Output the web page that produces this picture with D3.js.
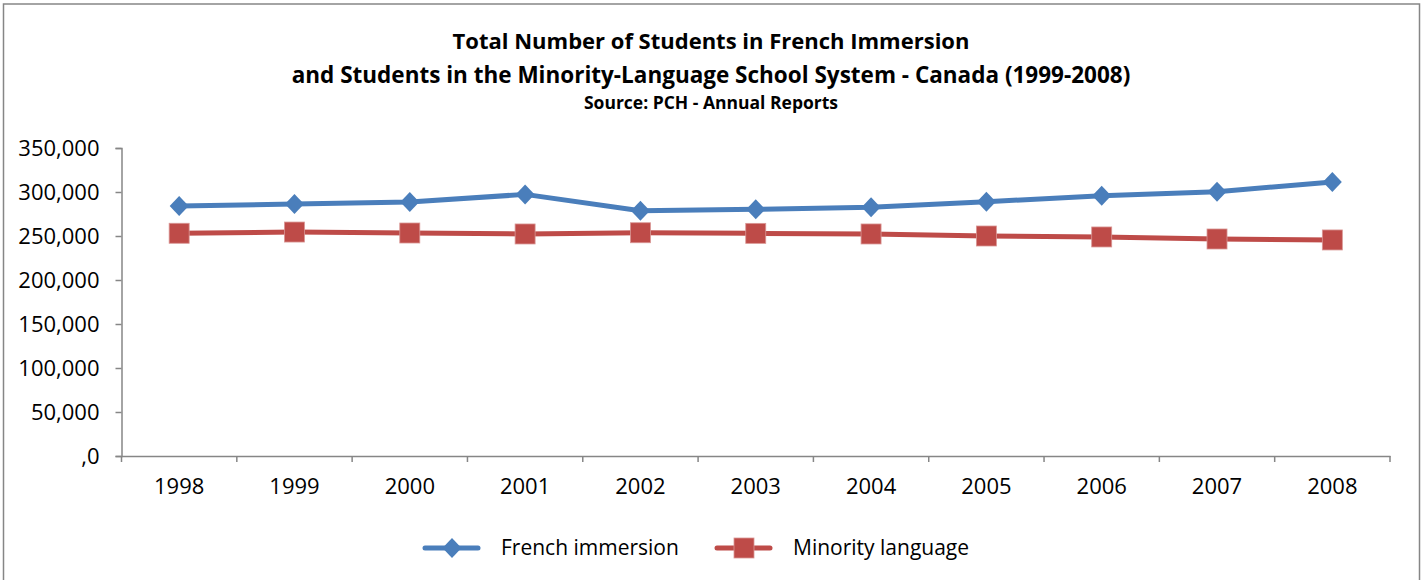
<!DOCTYPE html>
<html lang="en">
<head>
<meta charset="UTF-8">
<script src="https://d3js.org/d3.v7.min.js"></script>
<style>
    body { margin: 0; background: white; }
    text { font-family: "Open Sans", Lato, sans-serif; }
</style>
</head>
<body>
<svg id="chart" width="1426" height="580"></svg>
<script>
const years = ["1998", "1999", "2000", "2001", "2002", "2003", "2004", "2005", "2006", "2007", "2008"];
const frenchImmersion = [284100, 286400, 288600, 297300, 278700, 280300, 282600, 289000, 295800, 300300, 311400];
const minorityLanguage = [253100, 254500, 253400, 252300, 253700, 253000, 252300, 250000, 248900, 246600, 245500];
const yTicks = [0, 50000, 100000, 150000, 200000, 250000, 300000, 350000];

const width = 1426, height = 580;
const margin = { top: 148, right: 36, bottom: 124, left: 121.5 };
const svg = d3.select("#chart");

// outer chart border
svg.append("rect")
    .attr("x", 3.5).attr("y", 4)
    .attr("width", 1416).attr("height", 590)
    .attr("fill", "white").attr("stroke", "#868686").attr("stroke-width", 1.5);

svg.append("text").attr("x", 711).attr("y", 49)
    .attr("text-anchor", "middle").style("font-size", "22px").style("font-weight", "bold")
    .text("Total Number of Students in French Immersion");
svg.append("text").attr("x", 711).attr("y", 83)
    .attr("text-anchor", "middle").style("font-size", "22.5px").style("font-weight", "bold")
    .text("and Students in the Minority-Language School System - Canada (1999-2008)");
svg.append("text").attr("x", 711).attr("y", 109)
    .attr("text-anchor", "middle").style("font-size", "17.5px").style("font-weight", "bold")
    .text("Source: PCH - Annual Reports");

const x = d3.scaleBand().domain(years).range([margin.left, width - margin.right]);
const y = d3.scaleLinear().domain([0, 350000]).range([height - margin.bottom, margin.top]);

const fmt = d => d === 0 ? ",0" : d3.format(",")(d);

const yAxis = svg.append("g")
    .attr("transform", `translate(${margin.left},0)`)
    .call(d3.axisLeft(y).tickValues(yTicks).tickFormat(fmt).tickSize(6).tickPadding(16));
const xAxis = svg.append("g")
    .attr("transform", `translate(0,${height - margin.bottom})`)
    .call(d3.axisBottom(x).tickSize(0).tickPadding(22));

// category boundary ticks like the original
xAxis.selectAll(".boundary")
    .data(years.concat(["end"]))
    .enter().append("line")
    .attr("x1", (d, i) => margin.left + i * x.bandwidth())
    .attr("x2", (d, i) => margin.left + i * x.bandwidth())
    .attr("y1", 0).attr("y2", 6)
    .attr("stroke", "#868686").attr("stroke-width", 1.5);

[yAxis, xAxis].forEach(g => {
    g.select(".domain").attr("stroke", "#868686").attr("stroke-width", 1.5);
    g.selectAll(".tick line").attr("stroke", "#868686").attr("stroke-width", 1.5);
    g.selectAll("text").style("font-size", "22px").attr("fill", "black").style("font-family", "'Open Sans', sans-serif");
});

const series = [
    { name: "French immersion", values: frenchImmersion, color: "#4A7EBB", shape: "diamond" },
    { name: "Minority language", values: minorityLanguage, color: "#BE4B48", shape: "square" }
];

const line = d3.line()
    .x((d, i) => x(years[i]) + x.bandwidth() / 2)
    .y(d => y(d));

function marker(g, shape, color) {
    if (shape === "diamond") {
        g.append("path").attr("d", "M0,-10L9.5,0L0,10L-9.5,0Z").attr("fill", color);
    } else {
        g.append("rect").attr("x", -10).attr("y", -10).attr("width", 20).attr("height", 20)
            .attr("fill", color).attr("stroke", "#D99694").attr("stroke-width", 0.8);
    }
}

series.forEach(s => {
    svg.append("path")
        .datum(s.values)
        .attr("d", line)
        .attr("fill", "none")
        .attr("stroke", s.color)
        .attr("stroke-width", 5)
        .attr("stroke-linejoin", "round");
    s.values.forEach((v, i) => {
        const g = svg.append("g")
            .attr("transform", `translate(${x(years[i]) + x.bandwidth() / 2},${y(v)})`);
        marker(g, s.shape, s.color);
    });
});

// legend
const legendX = [423, 715];
series.forEach((s, i) => {
    const g = svg.append("g").attr("transform", `translate(${legendX[i]},548)`);
    g.append("line").attr("x1", 2).attr("x2", 55).attr("y1", 0).attr("y2", 0)
        .attr("stroke", s.color).attr("stroke-width", 5).attr("stroke-linecap", "round");
    const m = g.append("g").attr("transform", "translate(29,0)");
    marker(m, s.shape, s.color);
    g.append("text").attr("x", 78).attr("y", 0).attr("dy", "0.35em")
        .style("font-size", "21px").text(s.name);
});
</script>
</body>
</html>
